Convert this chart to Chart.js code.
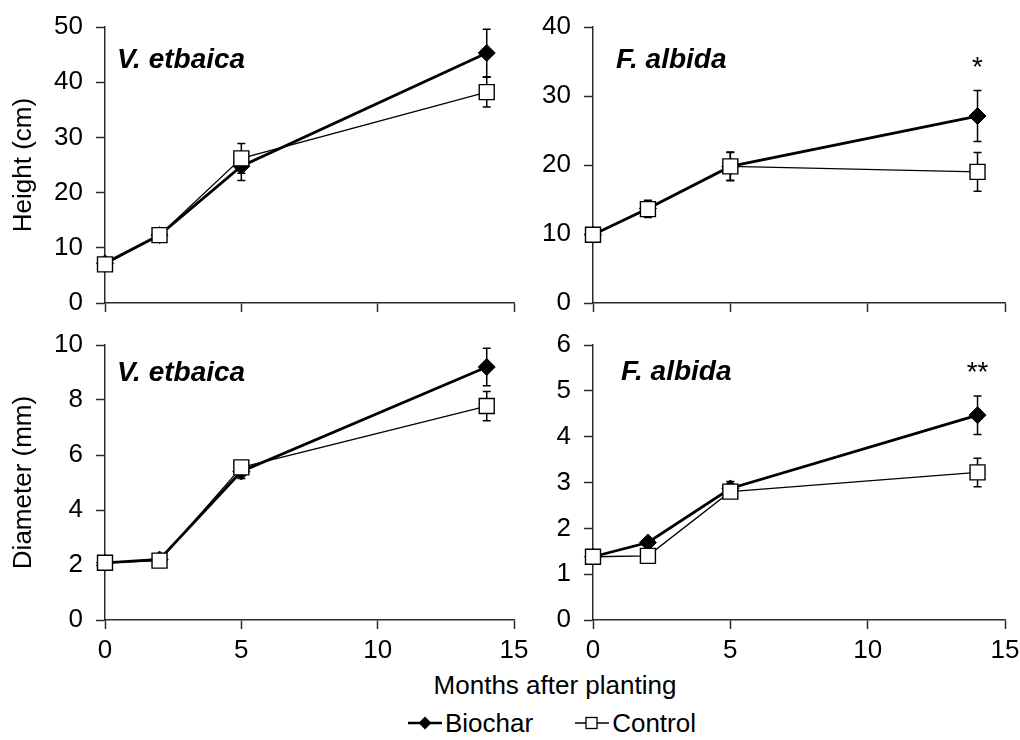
<!DOCTYPE html>
<html><head><meta charset="utf-8">
<script src="https://cdn.jsdelivr.net/npm/chart.js@4.4.1/dist/chart.umd.min.js"></script>
<style>
html,body{margin:0;padding:0;background:#fff;}
#wrap{position:relative;width:1020px;height:740px;overflow:hidden;font-family:'Liberation Sans',Arial,sans-serif;color:#000;background:#fff;}
canvas{position:absolute;}
.lbl{position:absolute;line-height:1;white-space:nowrap;transform:translateY(-50%);}
.sp{font-weight:bold;font-style:italic;font-size:28px;}
.star{position:absolute;line-height:1;font-size:28px;white-space:nowrap;transform:translateX(-50%);}
#xtitle{position:absolute;left:0;width:1110px;text-align:center;font-size:26px;line-height:1;top:672px;}
#legend{position:absolute;left:408px;top:710px;display:flex;align-items:center;font-size:26px;line-height:1;}
#legend svg{display:block;}
</style></head><body>
<div id="wrap">
<canvas id="c2" style="left:520px;top:0" width="500" height="323"></canvas>
<canvas id="c4" style="left:520px;top:320px" width="500" height="350"></canvas>
<canvas id="c1" style="left:0;top:0" width="540" height="323"></canvas>
<canvas id="c3" style="left:0;top:320px" width="540" height="350"></canvas>
<div class="lbl sp" style="left:117px;top:59px">V. etbaica</div>
<div class="lbl sp" style="left:616px;top:59px">F. albida</div>
<div class="lbl sp" style="left:117px;top:372px">V. etbaica</div>
<div class="lbl sp" style="left:621px;top:371px">F. albida</div>
<div class="star" id="s1">*</div>
<div class="star" id="s2">**</div>
<div id="xtitle">Months after planting</div>
<div id="legend">
  <svg width="34" height="16" viewBox="0 0 34 16"><line x1="0" y1="8" x2="34" y2="8" stroke="#000" stroke-width="2.5"/><polygon points="17,1.5 23.5,8 17,14.5 10.5,8" fill="#000"/></svg>
  <span style="margin-left:3px">Biochar</span>
  <svg style="margin-left:42px" width="34" height="16" viewBox="0 0 34 16"><line x1="0" y1="8" x2="34" y2="8" stroke="#000" stroke-width="1.3"/><rect x="11" y="2.5" width="11" height="11" fill="#fff" stroke="#000" stroke-width="1.3"/></svg>
  <span style="margin-left:3px">Control</span>
</div>
</div>
<script>
// ---- data ----
const months = [0, 2, 5, 14];
const xTicks = [0, 5, 10, 15];
const seriesNames = ['Biochar', 'Control'];

const vetHeightBiochar = [7.2, 12.3, 24.8, 45.3];
const vetHeightBiocharErr = [0.3, 0.6, 2.6, 4.3];
const vetHeightControl = [7.0, 12.3, 26.2, 38.2];
const vetHeightControlErr = [0.3, 0.8, 2.7, 2.7];

const falHeightBiochar = [9.9, 13.7, 19.8, 27.1];
const falHeightBiocharErr = [0.3, 1.2, 2.0, 3.7];
const falHeightControl = [9.9, 13.6, 19.8, 19.0];
const falHeightControlErr = [0.3, 1.2, 2.1, 2.8];

const vetDiamBiochar = [2.08, 2.2, 5.4, 9.2];
const vetDiamBiocharErr = [0.05, 0.15, 0.25, 0.68];
const vetDiamControl = [2.08, 2.16, 5.55, 7.78];
const vetDiamControlErr = [0.05, 0.1, 0.2, 0.53];

const falDiamBiochar = [1.38, 1.69, 2.87, 4.47];
const falDiamBiocharErr = [0.03, 0.08, 0.15, 0.42];
const falDiamControl = [1.38, 1.40, 2.80, 3.22];
const falDiamControlErr = [0.03, 0.05, 0.12, 0.31];

const FONT = "'Liberation Sans', Arial, sans-serif";
const AXIS = '#2b2b2b';

const errorBars = {
  id: 'errorBars',
  beforeDatasetsDraw(chart) {
    const ctx = chart.ctx, xs = chart.scales.x, ys = chart.scales.y;
    ctx.save();
    ctx.strokeStyle = '#000';
    ctx.lineWidth = 1.5;
    chart.data.datasets.forEach(ds => {
      ds.data.forEach((p, i) => {
        const e = ds.errors[i];
        const x = xs.getPixelForValue(p.x);
        const y1 = ys.getPixelForValue(p.y - e), y2 = ys.getPixelForValue(p.y + e);
        ctx.beginPath();
        ctx.moveTo(x, y1); ctx.lineTo(x, y2);
        ctx.moveTo(x - 4, y1); ctx.lineTo(x + 4, y1);
        ctx.moveTo(x - 4, y2); ctx.lineTo(x + 4, y2);
        ctx.stroke();
      });
    });
    ctx.restore();
  }
};

function pts(vals) { return months.map((m, i) => ({x: m, y: vals[i]})); }

function makeChart(id, o) {
  return new Chart(document.getElementById(id), {
    type: 'line',
    data: {
      datasets: [
        {
          label: seriesNames[0], data: pts(o.b), errors: o.be, order: 2, clip: false,
          borderColor: '#000', borderWidth: 2.8, pointStyle: 'rectRot', pointRadius: 8.5,
          pointBackgroundColor: '#000', pointBorderColor: '#000', pointBorderWidth: 1, tension: 0
        },
        {
          label: seriesNames[1], data: pts(o.c), errors: o.ce, order: 1, clip: false,
          borderColor: '#000', borderWidth: 1.3, pointStyle: 'rect', pointRadius: 10.6,
          pointBackgroundColor: '#fff', pointBorderColor: '#000', pointBorderWidth: 1.4, tension: 0
        }
      ]
    },
    options: {
      responsive: false, animation: false, devicePixelRatio: 1,
      layout: {padding: {top: o.padTop, right: o.padRight, left: 0, bottom: 0}},
      plugins: {legend: {display: false}, tooltip: {enabled: false}},
      scales: {
        x: {
          type: 'linear', min: 0, max: 15,
          afterBuildTicks: s => { s.ticks = xTicks.map(v => ({value: v})); },
          afterFit: s => { s.height = o.xHeight; s.paddingLeft = 0; s.paddingRight = 0; s.paddingTop = 0; s.paddingBottom = 0; },
          ticks: {
            color: '#000', font: {family: FONT, size: 26}, padding: 6,
            callback: v => o.showX ? String(v) : ''
          },
          grid: {drawOnChartArea: false, drawTicks: true, tickLength: 9, color: AXIS, tickWidth: 1.5},
          border: {color: AXIS, width: 1.5}
        },
        y: {
          min: 0, max: o.yMax,
          afterBuildTicks: s => { s.ticks = o.yTicks.map(v => ({value: v})); },
          afterFit: s => { s.width = o.yWidth; s.paddingTop = 0; s.paddingBottom = 0; s.paddingLeft = 0; s.paddingRight = 0; },
          ticks: {color: '#000', font: {family: FONT, size: 26}, padding: 13},
          grid: {drawOnChartArea: false, drawTicks: true, tickLength: 9, color: AXIS, tickWidth: 1.5},
          border: {color: AXIS, width: 1.5},
          title: {display: !!o.title, text: o.title || '', color: '#000',
                  font: {family: FONT, size: 26}, padding: {top: 8, bottom: 0}}
        }
      }
    },
    plugins: [errorBars]
  });
}

const ch1 = makeChart('c1', {b: vetHeightBiochar, be: vetHeightBiocharErr, c: vetHeightControl, ce: vetHeightControlErr,
  yMax: 50, yTicks: [0, 10, 20, 30, 40, 50], title: 'Height (cm)', yWidth: 105, padRight: 26, padTop: 27, xHeight: 20, showX: false});
const ch2 = makeChart('c2', {b: falHeightBiochar, be: falHeightBiocharErr, c: falHeightControl, ce: falHeightControlErr,
  yMax: 40, yTicks: [0, 10, 20, 30, 40], title: '', yWidth: 73, padRight: 15, padTop: 27, xHeight: 20, showX: false});
const ch3 = makeChart('c3', {b: vetDiamBiochar, be: vetDiamBiocharErr, c: vetDiamControl, ce: vetDiamControlErr,
  yMax: 10, yTicks: [0, 2, 4, 6, 8, 10], title: 'Diameter (mm)', yWidth: 105, padRight: 26, padTop: 25, xHeight: 50, showX: true});
const ch4 = makeChart('c4', {b: falDiamBiochar, be: falDiamBiocharErr, c: falDiamControl, ce: falDiamControlErr,
  yMax: 6, yTicks: [0, 1, 2, 3, 4, 5, 6], title: '', yWidth: 73, padRight: 15, padTop: 25, xHeight: 50, showX: true});

// significance stars anchored to data coordinates
function placeStar(el, chart, left, top, xv, yv) {
  const x = chart.scales.x.getPixelForValue(xv) + left;
  const y = chart.scales.y.getPixelForValue(yv) + top;
  el.style.left = x + 'px';
  el.style.top = (y - 0.28 * 28) + 'px';
}
placeStar(document.getElementById('s1'), ch2, 520, 0, 14, 35.1);
placeStar(document.getElementById('s2'), ch4, 520, 320, 14, 5.55);
</script>
</body></html>
